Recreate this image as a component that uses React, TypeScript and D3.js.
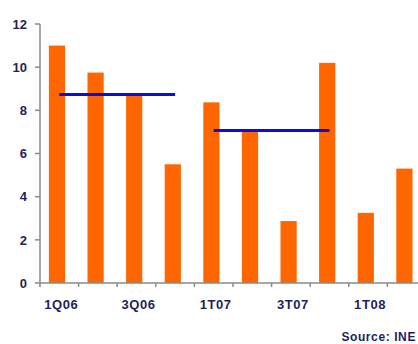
import React from "react";
import * as d3 from "d3";

// Quarterly values
const quarters = ["1Q06", "2Q06", "3Q06", "4Q06", "1T07", "2T07", "3T07", "4T07", "1T08", "2T08"];
const values = [11.0, 9.75, 8.7, 5.5, 8.37, 7.0, 2.87, 10.2, 3.25, 5.3];
// Yearly averages drawn as horizontal lines spanning their quarters
const avgLabels = ["2006", "2007"];
const avgValues = [8.73, 7.07];
const avgSpans: [number, number][] = [[0, 3], [4, 7]];
// Axis labels
const yTicks = [0, 2, 4, 6, 8, 10, 12];
const xLabelQuarters = ["1Q06", "3Q06", "1T07", "3T07", "1T08"];

const W = 418;
const H = 344;
const left = 40;
const right = 426;
const top = 24;
const bottom = 283;

const ORANGE = "#ff6600";
const NAVY = "#1f1f5c";
const GREY = "#8a8a8a";
const BLUE = "#0c0cdc";

export default function App() {
  const x = d3.scaleBand<string>().domain(quarters).range([left, right]).padding(0);
  const y = d3.scaleLinear().domain([0, 12]).range([bottom, top]);
  const step = x.step();
  const barW = step * 0.42;
  const barShift = -2.3;
  const center = (q: string) => (x(q) as number) + step / 2;

  return (
    <svg
      width={W}
      height={H}
      style={{ position: "absolute", left: 0, top: 0, background: "#fff" }}
      fontFamily="'Liberation Sans', Arial, sans-serif"
    >
      {/* bars */}
      {quarters.map((q, i) => (
        <rect
          key={q}
          x={center(q) - barW / 2 + barShift}
          y={y(values[i])}
          width={barW}
          height={y(0) - y(values[i])}
          fill={ORANGE}
        />
      ))}

      {/* yearly average lines */}
      {avgLabels.map((label, i) => (
        <line
          key={label}
          x1={center(quarters[avgSpans[i][0]])}
          x2={center(quarters[avgSpans[i][1]])}
          y1={y(avgValues[i])}
          y2={y(avgValues[i])}
          stroke={BLUE}
          strokeWidth={3}
        />
      ))}

      {/* y axis */}
      <line x1={left} x2={left} y1={y(12)} y2={y(0)} stroke={GREY} strokeWidth={1.5} />
      {yTicks.map((t) => (
        <g key={t}>
          <line x1={left - 5} x2={left} y1={y(t)} y2={y(t)} stroke={GREY} strokeWidth={1.5} />
          <text
            x={left - 13}
            y={y(t)}
            dy="0.36em"
            textAnchor="end"
            fontSize={13}
            fontWeight="bold"
            fill={NAVY}
          >
            {t}
          </text>
        </g>
      ))}

      {/* x axis */}
      <line x1={left} x2={W} y1={y(0)} y2={y(0)} stroke={GREY} strokeWidth={1.5} />
      {quarters.map((q) => (
        <line
          key={q}
          x1={x(q) as number}
          x2={x(q) as number}
          y1={y(0)}
          y2={y(0) + 4}
          stroke={GREY}
          strokeWidth={1.5}
        />
      ))}
      {xLabelQuarters.map((q) => (
        <text
          key={q}
          x={center(q) + 2}
          y={309}
          textAnchor="middle"
          fontSize={13}
          fontWeight="bold"
          letterSpacing={0.6}
          fill={NAVY}
        >
          {q}
        </text>
      ))}

      <text x={416} y={341} textAnchor="end" fontSize={12} fontWeight="bold" letterSpacing={0.6} fill={NAVY}>
        Source: INE
      </text>
    </svg>
  );
}
